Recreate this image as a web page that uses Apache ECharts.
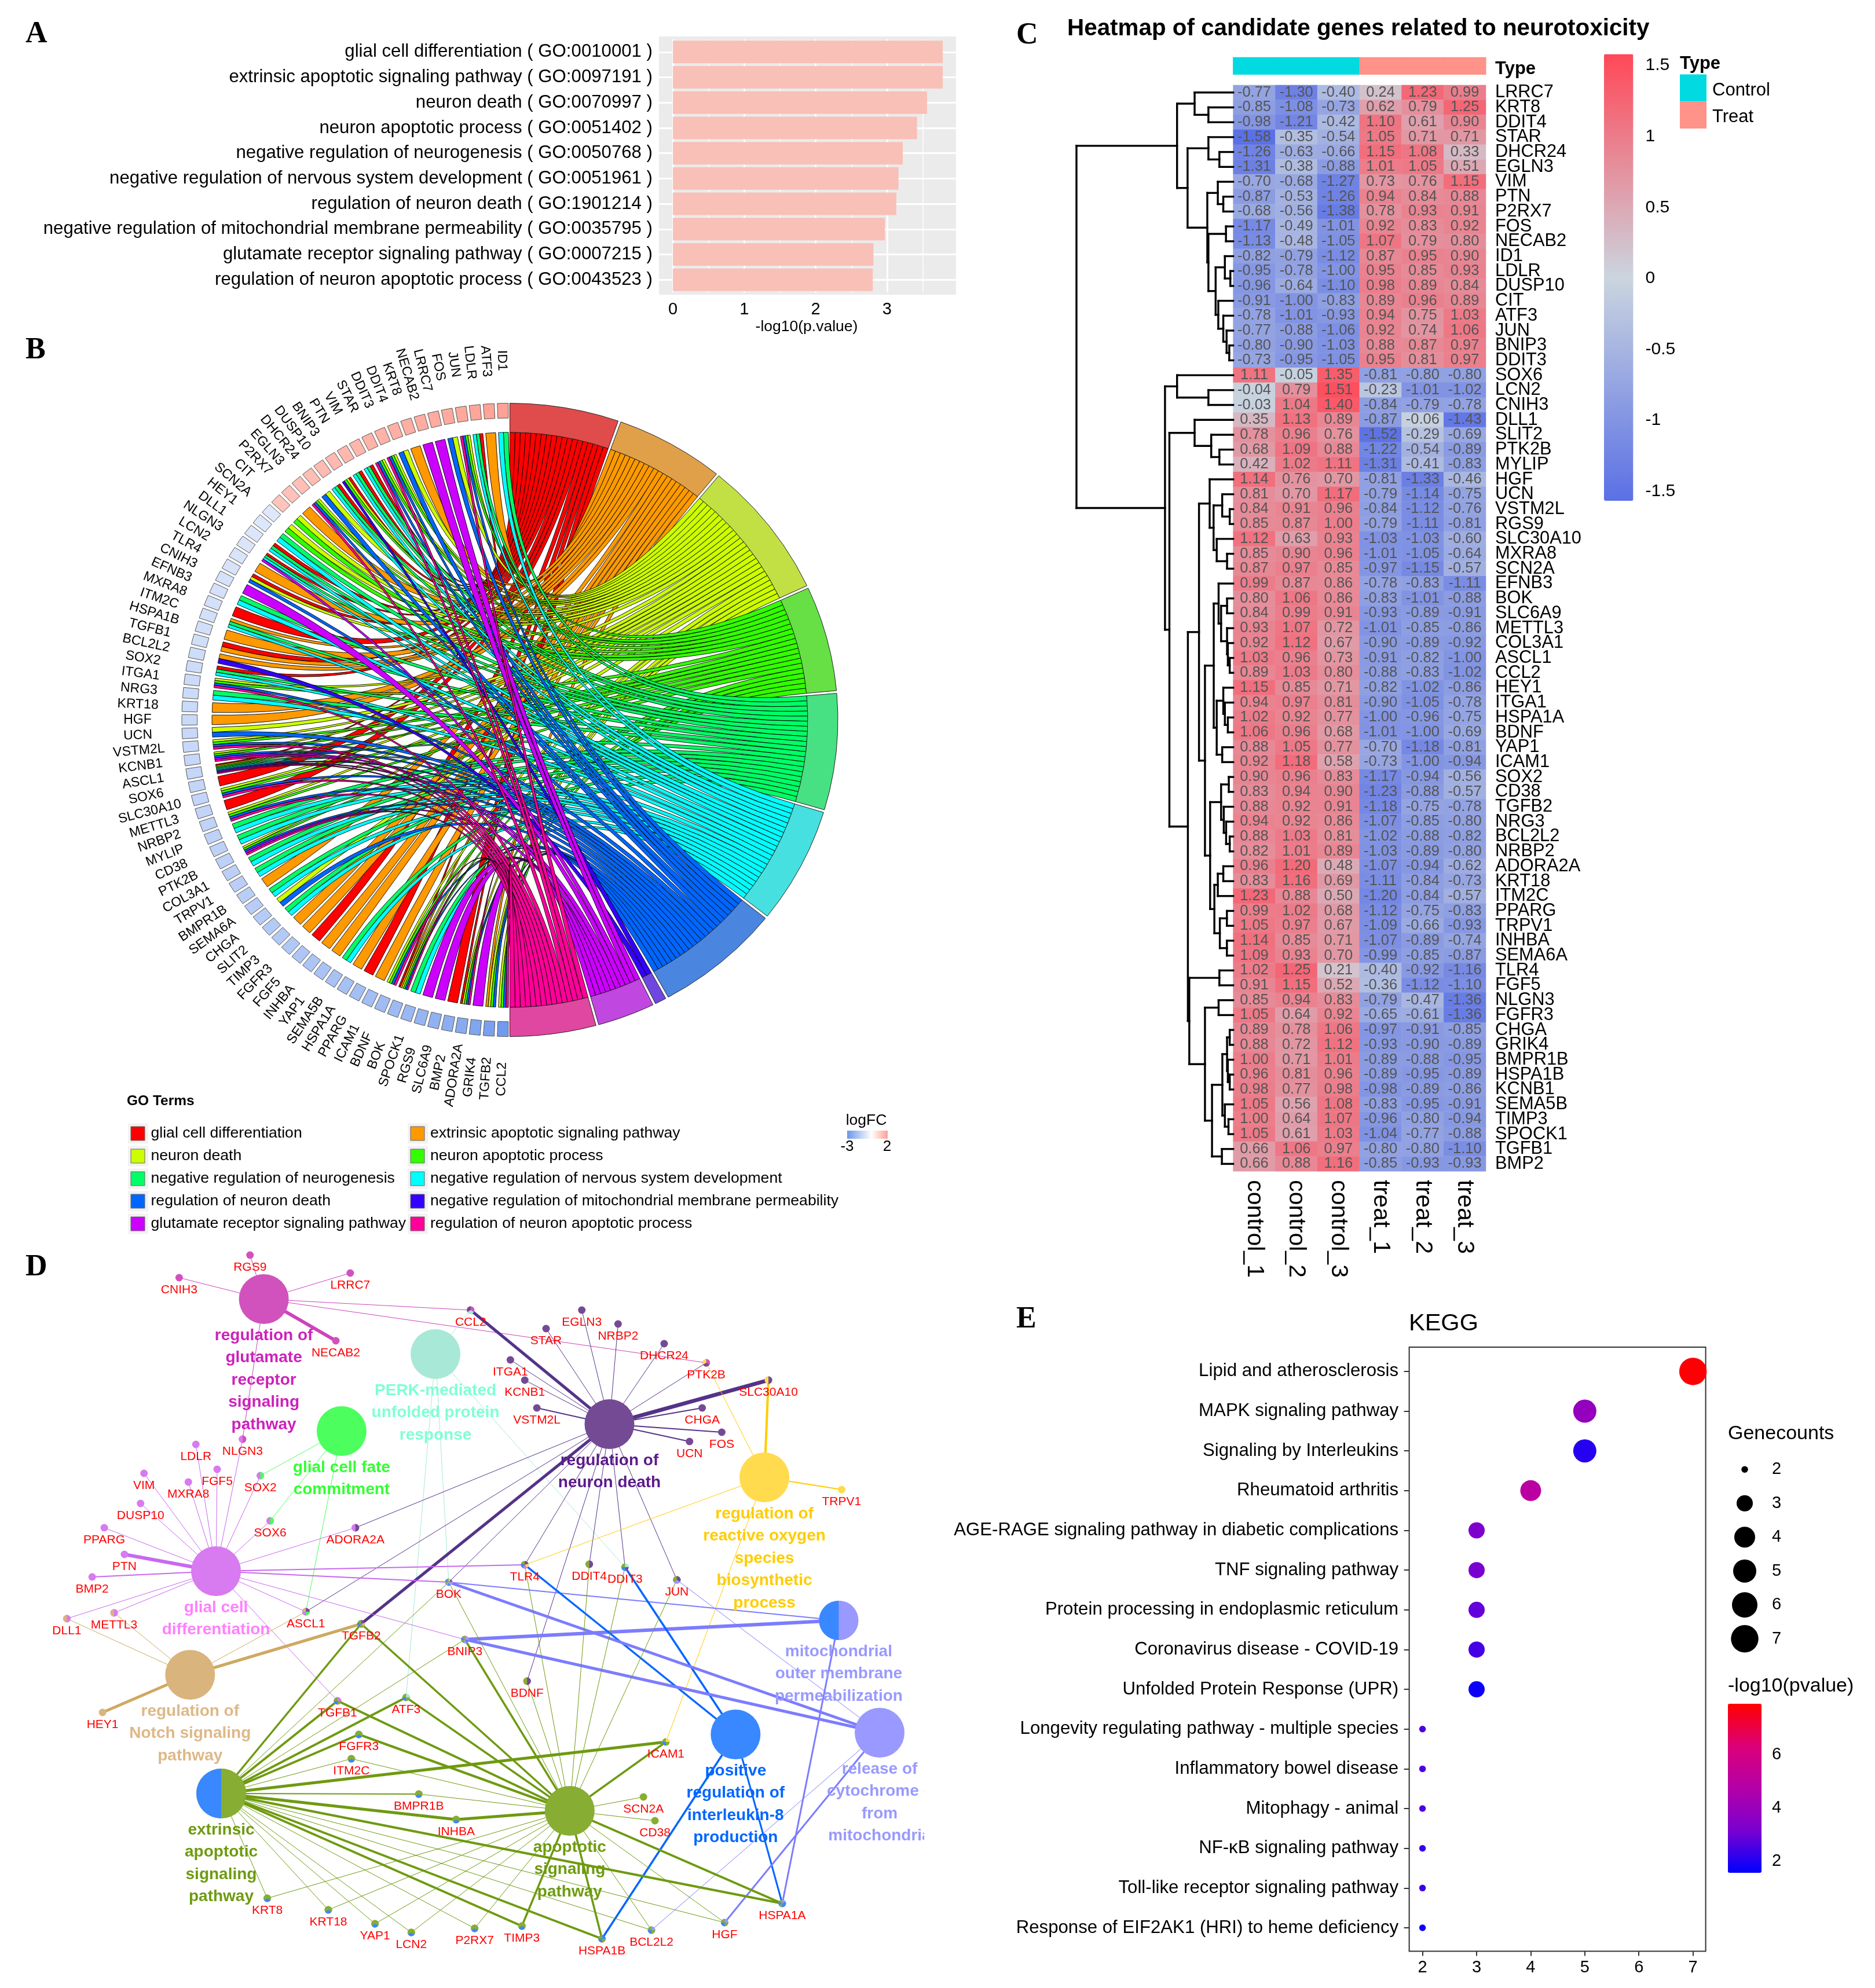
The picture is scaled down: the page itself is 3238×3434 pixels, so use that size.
<!DOCTYPE html>
<html><head><meta charset="utf-8">
<style>html,body{margin:0;padding:0;background:#fff}#c{width:3238px;height:3434px}</style>
<script src="https://cdn.jsdelivr.net/npm/echarts@6/dist/echarts.min.js"></script>
</head><body><div id="c"></div>
<script>
/* ---------- Panel A ---------- */
const goTerms = ['glial cell differentiation','extrinsic apoptotic signaling pathway','neuron death','neuron apoptotic process','negative regulation of neurogenesis','negative regulation of nervous system development','regulation of neuron death','negative regulation of mitochondrial membrane permeability','glutamate receptor signaling pathway','regulation of neuron apoptotic process'];
const goIds = ['GO:0010001','GO:0097191','GO:0070997','GO:0051402','GO:0050768','GO:0051961','GO:1901214','GO:0035795','GO:0007215','GO:0043523'];
const goLogP = [3.78,3.78,3.56,3.42,3.22,3.16,3.13,2.97,2.81,2.80];
/* ---------- Panel B ---------- */
const termColors = ['#FF0000','#FF9900','#CCFF00','#33FF00','#00FF66','#00FFFF','#0066FF','#3300FF','#CC00FF','#FF0099'];
const sectorColors = ['#E04B4B','#E0A04A','#C2E044','#66E044','#47E083','#47E0E0','#4A85E0','#6F47E0','#C047E0','#E047A0'];
const chordGenes = ['ID1','ATF3','LDLR','JUN','FOS','LRRC7','NECAB2','KRT8','DDIT4','DDIT3','STAR','VIM','PTN','BNIP3','DUSP10','DHCR24','EGLN3','P2RX7','CIT','SCN2A','HEY1','DLL1','NLGN3','LCN2','TLR4','CNIH3','EFNB3','MXRA8','ITM2C','HSPA1B','TGFB1','BCL2L2','SOX2','ITGA1','NRG3','KRT18','HGF','UCN','VSTM2L','KCNB1','ASCL1','SOX6','SLC30A10','METTL3','NRBP2','MYLIP','CD38','PTK2B','COL3A1','TRPV1','BMPR1B','SEMA6A','CHGA','SLIT2','TIMP3','FGFR3','FGF5','INHBA','YAP1','SEMA5B','HSPA1A','PPARG','ICAM1','BDNF','BOK','SPOCK1','RGS9','SLC6A9','BMP2','ADORA2A','GRIK4','TGFB2','CCL2'];
const chordTerms = [[4,5],[1],[0,4,5],[2,3,6,9],[2,6],[8],[8],[1],[2,6],[2,3,6,9],[2,3,6,9],[0,4,5],[0,4,5],[0,2,3,7],[0,4,5],[2,6],[2,3,6,9],[1],[2,3],[2,3],[4,5],[0,4,5],[0,4,5,8],[1],[0,2,6],[8],[4,5],[0],[1,4,5],[1],[0,1],[1,7],[0,4,5],[2,3,6,9],[4,5],[1],[1],[2,6],[2,3,6,9],[2,3,6,8,9],[0,2,3,4,5,6,8,9],[0],[2,3,6,9],[0],[2,3,6,9],[4,5],[4,5],[2,3,6,8,9],[4,5],[4,5],[1],[4,5],[2,6],[4,5],[1],[1],[0],[1],[1],[4,5],[1],[0],[1],[2,3,6,9],[0,1,2,3,6,9],[4,5],[8],[8],[0],[0,2,3,6,9],[8],[1,2,3,6],[2,3,6,9]];
const chordLogFC = [1.78,1.74,1.7,1.66,1.62,1.6,1.56,1.54,1.5,1.47,1.44,1.4,1.36,1.33,1.3,1.26,1.22,1.18,1.12,-0.62,-0.66,-0.68,-0.72,-0.74,-0.76,-0.8,-0.82,-0.84,-0.86,-0.88,-0.9,-0.94,-0.96,-0.98,-1,-1.02,-1.04,-1.06,-1.08,-1.1,-1.12,-1.14,-1.16,-1.18,-1.2,-1.24,-1.26,-1.28,-1.3,-1.34,-1.36,-1.4,-1.42,-1.46,-1.48,-1.52,-1.56,-1.6,-1.64,-1.68,-1.72,-1.76,-1.8,-1.84,-1.9,-1.96,-2.04,-2.12,-2.2,-2.3,-2.45,-2.6,-2.75];
/* ---------- Panel C ---------- */
const sampleNames = ['control_1','control_2','control_3','treat_1','treat_2','treat_3'];
const sampleGroups = [0,0,0,1,1,1];
const groupNames = ['Control','Treat'];
const heatGenes = ['LRRC7','KRT8','DDIT4','STAR','DHCR24','EGLN3','VIM','PTN','P2RX7','FOS','NECAB2','ID1','LDLR','DUSP10','CIT','ATF3','JUN','BNIP3','DDIT3','SOX6','LCN2','CNIH3','DLL1','SLIT2','PTK2B','MYLIP','HGF','UCN','VSTM2L','RGS9','SLC30A10','MXRA8','SCN2A','EFNB3','BOK','SLC6A9','METTL3','COL3A1','ASCL1','CCL2','HEY1','ITGA1','HSPA1A','BDNF','YAP1','ICAM1','SOX2','CD38','TGFB2','NRG3','BCL2L2','NRBP2','ADORA2A','KRT18','ITM2C','PPARG','TRPV1','INHBA','SEMA6A','TLR4','FGF5','NLGN3','FGFR3','CHGA','GRIK4','BMPR1B','HSPA1B','KCNB1','SEMA5B','TIMP3','SPOCK1','TGFB1','BMP2'];
const heatValues = [
[-0.77,-1.30,-0.40,0.24,1.23,0.99],[-0.85,-1.08,-0.73,0.62,0.79,1.25],[-0.98,-1.21,-0.42,1.10,0.61,0.90],[-1.58,-0.35,-0.54,1.05,0.71,0.71],[-1.26,-0.63,-0.66,1.15,1.08,0.33],[-1.31,-0.38,-0.88,1.01,1.05,0.51],[-0.70,-0.68,-1.27,0.73,0.76,1.15],[-0.87,-0.53,-1.26,0.94,0.84,0.88],[-0.68,-0.56,-1.38,0.78,0.93,0.91],[-1.17,-0.49,-1.01,0.92,0.83,0.92],[-1.13,-0.48,-1.05,1.07,0.79,0.80],[-0.82,-0.79,-1.12,0.87,0.95,0.90],[-0.95,-0.78,-1.00,0.95,0.85,0.93],[-0.96,-0.64,-1.10,0.98,0.89,0.84],[-0.91,-1.00,-0.83,0.89,0.96,0.89],[-0.78,-1.01,-0.93,0.94,0.75,1.03],[-0.77,-0.88,-1.06,0.92,0.74,1.06],[-0.80,-0.90,-1.03,0.88,0.87,0.97],[-0.73,-0.95,-1.05,0.95,0.81,0.97],
[1.11,-0.05,1.35,-0.81,-0.80,-0.80],[-0.04,0.79,1.51,-0.23,-1.01,-1.02],[-0.03,1.04,1.40,-0.84,-0.79,-0.78],[0.35,1.13,0.89,-0.87,-0.06,-1.43],[0.78,0.96,0.76,-1.52,-0.29,-0.69],[0.68,1.09,0.88,-1.22,-0.54,-0.89],[0.42,1.02,1.11,-1.31,-0.41,-0.83],[1.14,0.76,0.70,-0.81,-1.33,-0.46],[0.81,0.70,1.17,-0.79,-1.14,-0.75],[0.84,0.91,0.96,-0.84,-1.12,-0.76],[0.85,0.87,1.00,-0.79,-1.11,-0.81],[1.12,0.63,0.93,-1.03,-1.03,-0.60],[0.85,0.90,0.96,-1.01,-1.05,-0.64],[0.87,0.97,0.85,-0.97,-1.15,-0.57],[0.99,0.87,0.86,-0.78,-0.83,-1.11],[0.80,1.06,0.86,-0.83,-1.01,-0.88],[0.84,0.99,0.91,-0.93,-0.89,-0.91],[0.93,1.07,0.72,-1.01,-0.85,-0.86],[0.92,1.12,0.67,-0.90,-0.89,-0.92],[1.03,0.96,0.73,-0.91,-0.82,-1.00],[0.89,1.03,0.80,-0.88,-0.83,-1.02],[1.15,0.85,0.71,-0.82,-1.02,-0.86],[0.94,0.97,0.81,-0.90,-1.05,-0.78],[1.02,0.92,0.77,-1.00,-0.96,-0.75],[1.06,0.96,0.68,-1.01,-1.00,-0.69],[0.88,1.05,0.77,-0.70,-1.18,-0.81],[0.92,1.18,0.58,-0.73,-1.00,-0.94],[0.90,0.96,0.83,-1.17,-0.94,-0.56],[0.83,0.94,0.90,-1.23,-0.88,-0.57],[0.88,0.92,0.91,-1.18,-0.75,-0.78],[0.94,0.92,0.86,-1.07,-0.85,-0.80],[0.88,1.03,0.81,-1.02,-0.88,-0.82],[0.82,1.01,0.89,-1.03,-0.89,-0.80],[0.96,1.20,0.48,-1.07,-0.94,-0.62],[0.83,1.16,0.69,-1.11,-0.84,-0.73],[1.23,0.88,0.50,-1.20,-0.84,-0.57],[0.99,1.02,0.68,-1.12,-0.75,-0.83],[1.05,0.97,0.67,-1.09,-0.66,-0.93],[1.14,0.85,0.71,-1.07,-0.89,-0.74],[1.09,0.93,0.70,-0.99,-0.85,-0.87],[1.02,1.25,0.21,-0.40,-0.92,-1.16],[0.91,1.15,0.52,-0.36,-1.12,-1.10],[0.85,0.94,0.83,-0.79,-0.47,-1.36],[1.05,0.64,0.92,-0.65,-0.61,-1.36],[0.89,0.78,1.06,-0.97,-0.91,-0.85],[0.88,0.72,1.12,-0.93,-0.90,-0.89],[1.00,0.71,1.01,-0.89,-0.88,-0.95],[0.96,0.81,0.96,-0.89,-0.95,-0.89],[0.98,0.77,0.98,-0.98,-0.89,-0.86],[1.05,0.56,1.08,-0.83,-0.95,-0.91],[1.00,0.64,1.07,-0.96,-0.80,-0.94],[1.05,0.61,1.03,-1.04,-0.77,-0.88],[0.66,1.06,0.97,-0.80,-0.80,-1.10],[0.66,0.88,1.16,-0.85,-0.93,-0.93]];
/* merge heights of the row dendrogram: [height, childA, childB] */
const rowTree = [100,
 [35.8,[24.6,'LRRC7',[15.8,'KRT8','DDIT4']],
  [29.1,[15.8,'STAR',[8.8,'DHCR24','EGLN3']],
   [16.5,[9.8,'VIM',[6.3,'PTN','P2RX7']],
    [15.8,[4.6,'FOS','NECAB2'],
     [11.2,[5.3,'ID1',[1.8,'LDLR','DUSP10']],
      [9.5,'CIT',[6.3,'ATF3',[4.2,'JUN',[2.5,'BNIP3','DDIT3']]]]]]]]],
 [43.5,[35.8,'SOX6',[15.8,'LCN2','CNIH3']],
  [40.7,[24.6,'DLL1',[14,'SLIT2',[8.8,'PTK2B','MYLIP']]],
   [28.9,
    [21.8,
     [15,'HGF',[12.5,[7,'UCN',[2.2,'VSTM2L','RGS9']],[10.5,'SLC30A10',[3.9,'MXRA8','SCN2A']]]],
     [18,
      [12.4,[9.3,'EFNB3',[7.7,[3.9,'BOK','SLC6A9'],[3.9,'METTL3',[3.4,'COL3A1',[2.2,'ASCL1','CCL2']]]]],
       [10.5,[6.3,'HEY1',[5.3,'ITGA1',[3.4,'HSPA1A','BDNF']]],[7,'YAP1','ICAM1']]],
      [14.7,[7.7,[2.8,'SOX2','CD38'],[6,'TGFB2',[4.5,'NRG3',[2.2,'BCL2L2','NRBP2']]]],
       [12,[9.8,[6.3,'ADORA2A','KRT18'],'ITM2C'],[8.5,[4,'PPARG','TRPV1'],[4,'INHBA','SEMA6A']]]]]],
    [28,[8.8,'TLR4','FGF5'],
     [18,[9.3,'NLGN3','FGFR3'],
      [13.5,[6.9,[3.9,[2.2,'CHGA','GRIK4'],[3.4,'BMPR1B',[2.2,'HSPA1B','KCNB1']]],[5.3,'SEMA5B',[3,'TIMP3','SPOCK1']]],
       [7.2,'TGFB1','BMP2']]]]]]]];
const heatTicks = [-1.5,-1,-0.5,0,0.5,1,1.5];
/* ---------- Panel D ---------- */
const hubNames = ['regulation of\nglutamate\nreceptor\nsignaling\npathway','PERK-mediated\nunfolded protein\nresponse','regulation of\nneuron death','glial cell fate\ncommitment','regulation of\nreactive oxygen\nspecies\nbiosynthetic\nprocess','glial cell\ndifferentiation','regulation of\nNotch signaling\npathway','mitochondrial\nouter membrane\npermeabilization','positive\nregulation of\ninterleukin-8\nproduction','release of\ncytochrome c\nfrom\nmitochondria','extrinsic\napoptotic\nsignaling\npathway','apoptotic\nsignaling\npathway'];
const hubPies = [['#D152BD'],['#A8E8D6'],['#754A94'],['#4DFF5E'],['#FFDB4D'],['#D87AF0'],['#D9B47D'],['#9999FF','#3A88FF'],['#3A88FF'],['#9999FF'],['#87AD33','#3A88FF'],['#87AD33']];
const hubText = ['#CC22BB','#7FFFD4','#5B1A8B','#33FF33','#FFCC00','#FF80FF','#DEB887','#9999FF','#0066FF','#9999FF','#6E9B10','#6E9B10'];
const hubEdge = ['#CC44BB','#A8E8D6','#553388','#4DFF5E','#FFCC00','#C868F0','#CFA860','#7C7CFF','#0066FF','#7C7CFF','#6E9A10','#6E9A10'];
const hubMembers = [
 ['CNIH3','LRRC7','RGS9','CCL2','PTK2B','NECAB2 6','NLGN3'],
 ['CCL2','DDIT3','BOK','ATF3'],
 ['CCL2 5','EGLN3','NRBP2','STAR','DHCR24','PTK2B','ITGA1','KCNB1','SLC30A10 7','VSTM2L 2','CHGA 2','FOS 2','UCN 2','ADORA2A','ASCL1','TGFB2 5','BOK','TLR4','DDIT4','DDIT3','JUN','BDNF'],
 ['SOX2','SOX6','ASCL1'],
 ['SLC30A10 4','PTK2B','TRPV1 2','TLR4','ICAM1'],
 ['NLGN3','LDLR','FGF5','VIM','MXRA8','SOX2','DUSP10','SOX6','PPARG','PTN 6','BMP2 2','DLL1','METTL3','ASCL1','ADORA2A','TLR4 2','BOK 2','BNIP3','TGFB1'],
 ['DLL1','METTL3','ASCL1','TGFB2 5','HEY1 5'],
 ['BOK 2','BNIP3 6','HSPA1A 3'],
 ['TLR4 3.5','DDIT3 3.5','HSPA1B 3.5','HSPA1A 3'],
 ['BOK 5','BNIP3 5','JUN','BCL2L2','HGF 3'],
 ['TGFB2 3.5','TGFB1 4','ATF3 4','FGFR3 4','ITM2C','ICAM1 5','BMPR1B 2','INHBA 5','BOK','BNIP3','KRT8','KRT18','YAP1','LCN2','P2RX7','TIMP3 4','HSPA1B 4','BCL2L2','HGF','HSPA1A 4'],
 ['TGFB2 3.5','TGFB1 4','ATF3 3.5','FGFR3 4','ITM2C','BMPR1B','INHBA 5','ICAM1 3.5','SCN2A','CD38','BNIP3 3.5','BOK','TLR4','DDIT4','DDIT3','JUN','BDNF','KRT8','KRT18','YAP1','LCN2','P2RX7','TIMP3 3.5','HSPA1B 3.5','BCL2L2','HGF','HSPA1A 4']
];
/* layout of the network (the picture has no data scale for it) */
const hubLayout = [[458,2244,86],[756,2339,86],[1058,2460,86],[593,2472,86],[1327,2552,86],[375,2714,86],[330,2893,86],[1456,2799,68],[1277,2996,86],[1527,2993,86],[384,3098,86],[989,3128,86]];
const geneLayout = {RGS9:[434,2168],CNIH3:[311,2207],LRRC7:[608,2199],NECAB2:[583,2316],CCL2:[817,2263],EGLN3:[1010,2263],NRBP2:[1073,2287],STAR:[948,2295],DHCR24:[1153,2321],PTK2B:[1226,2354],ITGA1:[886,2349],KCNB1:[911,2384],SLC30A10:[1334,2384],VSTM2L:[932,2432],CHGA:[1219,2432],FOS:[1253,2474],UCN:[1197,2490],TRPV1:[1461,2573],NLGN3:[421,2486],LDLR:[340,2495],FGF5:[377,2538],VIM:[250,2545],MXRA8:[327,2560],SOX2:[452,2549],DUSP10:[244,2597],SOX6:[469,2627],PPARG:[181,2639],ADORA2A:[617,2639],PTN:[216,2685],BMP2:[160,2724],TLR4:[911,2703],DDIT4:[1023,2702],DDIT3:[1085,2707],JUN:[1175,2729],BOK:[779,2733],DLL1:[116,2796],METTL3:[198,2786],ASCL1:[531,2784],TGFB2:[627,2805],BNIP3:[807,2832],BDNF:[915,2904],HEY1:[178,2958],TGFB1:[586,2938],ATF3:[705,2932],FGFR3:[623,2996],ITM2C:[610,3038],ICAM1:[1156,3009],BMPR1B:[727,3099],SCN2A:[1117,3104],INHBA:[792,3143],CD38:[1137,3145],KRT8:[464,3279],KRT18:[570,3299],YAP1:[651,3323],LCN2:[714,3338],P2RX7:[824,3331],TIMP3:[906,3327],HSPA1B:[1045,3349],BCL2L2:[1131,3334],HGF:[1258,3321],HSPA1A:[1358,3288]};
/* ---------- Panel E ---------- */
const keggNames = ['Lipid and atherosclerosis','MAPK signaling pathway','Signaling by Interleukins','Rheumatoid arthritis','AGE-RAGE signaling pathway in diabetic complications','TNF signaling pathway','Protein processing in endoplasmic reticulum','Coronavirus disease - COVID-19','Unfolded Protein Response (UPR)','Longevity regulating pathway - multiple species','Inflammatory bowel disease','Mitophagy - animal','NF-κB signaling pathway','Toll-like receptor signaling pathway','Response of EIF2AK1 (HRI) to heme deficiency'];
const keggCounts = [7,5,5,4,3,3,3,3,3,2,2,2,2,2,2];
const keggLogP = [7.9,3.9,2.1,5.0,3.3,3.2,2.9,2.5,1.75,2.6,2.6,2.6,2.3,2.4,1.8];
const countLegend = [2,3,4,5,6,7];
const pTicks = [2,4,6];

const FONT = '"Liberation Sans", Arial, sans-serif';
const grid=[],xAxis=[],yAxis=[],series=[],visualMap=[],graphic=[];
const hide={show:false};
const addText=(text,x,y,size,o={})=>graphic.push({type:'text',z:o.z||50,rotation:o.rotation||0,x,y,style:{text,fill:o.fill||'#000',font:(o.weight||'normal')+' '+size+'px '+(o.family||FONT),align:o.align||'left',verticalAlign:'middle',textAlign:o.align||'left',textVerticalAlign:'middle'}});
const addRect=(x,y,w,h,fill,z,o={})=>graphic.push({type:'rect',z:z,shape:{x,y,width:w,height:h},style:{fill,stroke:o.stroke||null,lineWidth:o.lw||0}});
const SERIF='"Liberation Serif", "Times New Roman", serif';
[['A',44,60],['B',44,606],['C',1755,62],['D',44,2190],['E',1755,2280]].forEach(p=>addText(p[0],p[1],p[2],52,{weight:'bold',family:SERIF}));

/* ===== A ===== */
addRect(1138,63,513,446,'#EBEBEB',-10);
grid.push({left:1138,width:513,top:68,height:437,containLabel:false});
xAxis.push({gridIndex:0,type:'value',min:-0.195,max:3.966,offset:4,axisLine:hide,
  axisTick:{customValues:[0,1,2,3],length:8,lineStyle:{color:'#333',width:2}},
  axisLabel:{customValues:[0,1,2,3],fontSize:29,color:'#000',margin:11,fontFamily:FONT},
  splitLine:{show:true,lineStyle:{color:'#fff',width:3}}});
xAxis.push({gridIndex:0,type:'value',min:-0.195,max:3.966,axisLine:hide,axisTick:{show:false,customValues:[0.5,1.5,2.5,3.5]},axisLabel:{show:false},splitLine:{show:true,lineStyle:{color:'#fff',width:1.5}}});
yAxis.push({gridIndex:0,type:'category',inverse:true,data:goTerms.map((t,i)=>t+' ( '+goIds[i]+' )'),axisLine:{show:false,onZero:false},
  axisTick:{alignWithLabel:true,length:7,lineStyle:{color:'#333',width:2}},
  axisLabel:{fontSize:31.2,color:'#000',margin:11,fontFamily:FONT,interval:0},
  splitLine:{show:true,alignWithLabel:true,lineStyle:{color:'#fff',width:3}}});
series.push({type:'bar',xAxisIndex:0,yAxisIndex:0,data:goLogP,barWidth:39,itemStyle:{color:'#F9C0B7'},silent:true});
addText('-log10(p.value)',1393,565,26.5,{align:'center'});

/* ===== B ===== */
const C={cx:880.5,cy:1243.5,rx:566.5,ry:547};
const pt=(deg,r)=>{const a=deg*Math.PI/180;return [C.cx+C.rx*r*Math.sin(a),C.cy-C.ry*r*Math.cos(a)];};
const P=(deg,r)=>pt(deg,r).map(v=>v.toFixed(2)).join(' ');
const arcPath=(a,b,r)=>{let s='';for(let k=1;k<=6;k++)s+=' L'+P(a+(b-a)*k/6,r);return s;};
const counts=termColors.map((_,t)=>chordTerms.filter(l=>l.includes(t)).length);
const totalR=counts.reduce((a,b)=>a+b,0);
const secGap=0.49,unit=(180-9*secGap)/totalR;
const secStart=[];let acc=0;counts.forEach((c,t)=>{secStart[t]=acc;acc+=c*unit+secGap;});
const geneW=180/chordGenes.length;
const RIN=0.908;
const ribbons=[];const used=termColors.map(()=>0);
termColors.forEach((_,t)=>{chordTerms.forEach((l,g)=>{const k=l.indexOf(t);if(k<0)return;
  const a1=secStart[t]+used[t]*unit,a2=a1+unit;used[t]++;
  const span=geneW*0.78,st=-(g*geneW+geneW*0.11)-0.0;
  const b0=st-span*k/l.length,b1=st-span*(k+1)/l.length;
  ribbons.push([t,a1,a2,b0,b1]);});});
const cc=C.cx+' '+C.cy;
series.push({type:'custom',coordinateSystem:'none',silent:true,z:3,clip:false,progressive:0,data:ribbons,renderItem:(p,api)=>{
  const t=api.value(0),a1=api.value(1),a2=api.value(2),b0=api.value(3),b1=api.value(4);
  const d='M'+P(a1,RIN)+arcPath(a1,a2,RIN)+' Q'+cc+' '+P(b1,RIN)+arcPath(b1,b0,RIN)+' Q'+cc+' '+P(a1,RIN)+' Z';
  return {type:'path',shape:{pathData:d},style:{fill:termColors[t],stroke:'#000',lineWidth:0.9}};
}});
series.push({type:'custom',coordinateSystem:'none',silent:true,z:4,clip:false,progressive:0,data:counts.map((c,t)=>[t,c]),renderItem:(p,api)=>{
  const t=api.value(0),a=secStart[t],b=a+api.value(1)*unit;
  const d='M'+P(a,1)+arcPath(a,b,1)+' L'+P(b,RIN)+arcPath(b,a,RIN)+' Z';
  return {type:'path',shape:{pathData:d},style:{fill:sectorColors[t],stroke:'#222',lineWidth:1}};
}});
const fcColor=v=>{const mix=(a,b,f)=>'rgb('+a.map((x,i)=>Math.round(x+(b[i]-x)*f)).join(',')+')';
  return v>=0?mix([255,255,255],[255,150,136],v/2):mix([255,255,255],[100,146,236],-v/3);};
series.push({type:'custom',coordinateSystem:'none',silent:true,z:4,clip:false,progressive:0,data:chordLogFC.map((v,i)=>[i,v]),renderItem:(p,api)=>{
  const g=api.value(0),a=-(g*geneW+geneW*0.11),b=a-geneW*0.78;
  const d='M'+P(a,1)+arcPath(a,b,1)+' L'+P(b,0.953)+arcPath(b,a,0.953)+' Z';
  return {type:'path',shape:{pathData:d},style:{fill:fcColor(api.value(1)),stroke:'#555',lineWidth:1}};
}});
series.push({type:'custom',coordinateSystem:'none',silent:true,z:5,clip:false,progressive:0,data:chordGenes.map((n,i)=>[i]),renderItem:(p,api)=>{
  const g=api.value(0),m=-(g*geneW+geneW*0.5),q=pt(m,1.135);
  const rot=Math.atan2(q[1]-C.cy,-(q[0]-C.cx));
  return {type:'text',x:q[0],y:q[1],rotation:rot,style:{text:chordGenes[g],font:'23px '+FONT,fill:'#000',align:'center',verticalAlign:'middle',textAlign:'center',textVerticalAlign:'middle'}};
}});
addText('GO Terms',219,1902,24.5,{weight:'bold'});
goTerms.forEach((t,i)=>{const col=i%2,row=(i-col)/2,y=1958+row*39,kx=col?704:221;
  addRect(kx,y-17.5,35,35,'#F2F2F2',40);
  addRect(kx+5,y-12,24,24,termColors[i],41,{stroke:'#666',lw:1});
  addText(t,col?743:260.5,y,26.6);});
addText('logFC',1496,1936,26.5,{align:'center'});
graphic.push({type:'rect',z:40,shape:{x:1463,y:1953,width:70,height:14},style:{fill:new echarts.graphic.LinearGradient(0,0,1,0,[{offset:0,color:'#6C96E8'},{offset:0.6,color:'#FFFFFF'},{offset:1,color:'#FF9F94'}])}});
addText('-3',1463,1981,26,{align:'center'});addText('2',1532,1981,26,{align:'center'});

/* ===== C ===== */
const gH=1;
grid.push({left:2129.6,width:436.4,top:146.9,height:1876.4});
xAxis.push({gridIndex:gH,type:'category',data:sampleNames,axisLine:hide,axisTick:hide,splitLine:hide,axisLabel:{rotate:-90,fontSize:41,color:'#000',margin:15,fontFamily:FONT,interval:0}});
yAxis.push({gridIndex:gH,type:'category',inverse:true,position:'right',data:heatGenes,axisLine:hide,axisTick:hide,splitLine:hide,axisLabel:{fontSize:30.8,color:'#000',margin:16,fontFamily:FONT,interval:0}});
const heatData=[];heatValues.forEach((r,i)=>r.forEach((v,j)=>heatData.push([j,i,v])));
const heatIdx=series.length;
series.push({type:'heatmap',xAxisIndex:2,yAxisIndex:gH,data:heatData,silent:true,progressive:0,label:{show:true,fontSize:25.5,color:'#555',fontFamily:FONT,formatter:p=>p.value[2].toFixed(2)}});
visualMap.push({type:'continuous',seriesIndex:heatIdx,dimension:2,min:-1.56,max:1.586,calculable:false,hoverLink:false,realtime:false,itemWidth:50.5,itemHeight:771.5,left:2770,top:93.5,padding:0,inRange:{color:['#5A70E5','#CBD5DF','#FF4858']}});
/* dendrogram */
const dG=grid.length;
grid.push({left:1859,width:270.6,top:146.9,height:1876.4});
const dX=xAxis.length; xAxis.push({gridIndex:dG,type:'value',min:0,max:100,inverse:true,show:false});
const dY=yAxis.length; yAxis.push({gridIndex:dG,type:'value',min:-0.5,max:72.5,inverse:true,show:false});
const treeSegs=[];
const walk=n=>{if(typeof n==='string')return {h:0,y:heatGenes.indexOf(n)};
  const a=walk(n[1]),b=walk(n[2]),h=n[0];
  treeSegs.push([a.h,a.y,h,a.y],[b.h,b.y,h,b.y],[h,a.y,h,b.y]);
  return {h,y:(a.y+b.y)/2};};
walk(rowTree);
const seg=(p,api)=>{const s=api.coord([api.value(0),api.value(1)]),e=api.coord([api.value(2),api.value(3)]);
  return {type:'line',shape:{x1:s[0],y1:s[1],x2:e[0],y2:e[1]},style:{stroke:'#000',lineWidth:3.4,lineCap:'square'}};};
series.push({type:'custom',xAxisIndex:dX,yAxisIndex:dY,silent:true,clip:false,progressive:0,data:treeSegs,encode:{x:[0,2],y:[1,3]},renderItem:seg});
/* annotation bar */
const aG=grid.length;
grid.push({left:2129.6,width:436.4,top:98.7,height:30.3});
const aX=xAxis.length; xAxis.push({gridIndex:aG,type:'category',data:sampleNames,show:false});
const aY=yAxis.length; yAxis.push({gridIndex:aG,type:'category',data:['Type'],show:false});
const typeColors=['#00DAE0','#FF9289'];
series.push({type:'custom',xAxisIndex:aX,yAxisIndex:aY,silent:true,progressive:0,data:sampleNames.map((n,i)=>[i,0,sampleGroups[i]]),encode:{x:0,y:1},renderItem:(p,api)=>{
  const c=api.coord([api.value(0),0]),s=api.size([1,1]);
  return {type:'rect',shape:{x:c[0]-s[0]/2-0.5,y:c[1]-s[1]/2,width:s[0]+1,height:s[1]},style:{fill:typeColors[api.value(2)]}};
}});
addText('Heatmap of candidate genes related to neurotoxicity',1843,50,40.4,{weight:'bold'});
addText('Type',2582,119,31,{weight:'bold'});
addText('Type',2901,110,31,{weight:'bold'});
groupNames.forEach((n,i)=>{addRect(2901,128.6+i*46.7,46,46.7,typeColors[i],40);addText(n,2957,156+i*46,31);});
/* heat colourbar labels */
const hbG=grid.length;
grid.push({left:2770,width:50.5,top:93.5,height:771.5});
const hbX=xAxis.length; xAxis.push({gridIndex:hbG,type:'value',min:0,max:1,show:false});
const hbY=yAxis.length; yAxis.push({gridIndex:hbG,type:'value',position:'right',min:-1.566,max:1.58,axisLine:hide,axisTick:{show:false,customValues:heatTicks},splitLine:hide,axisLabel:{customValues:heatTicks,fontSize:30,color:'#000',margin:21,fontFamily:FONT,formatter:v=>String(v)}});

/* ===== E ===== */
const sizeBy={2:11.5,3:28,4:36,5:40,6:44,7:47.5};
const eG=grid.length;
grid.push({left:2433.6,width:512,top:2327,height:1043.5,show:true,borderColor:'#333',borderWidth:2,backgroundColor:'#fff'});
const eRows=keggNames.map((_,i)=>i+1);
const eX=xAxis.length; xAxis.push({gridIndex:eG,type:'value',min:1.754,max:7.235,axisLine:hide,splitLine:hide,axisTick:{customValues:[2,3,4,5,6,7],length:8,lineStyle:{color:'#333',width:2}},axisLabel:{customValues:[2,3,4,5,6,7],fontSize:29,color:'#000',margin:14,fontFamily:FONT}});
const eY=yAxis.length; yAxis.push({gridIndex:eG,type:'value',inverse:true,min:0.39,max:15.59,axisLine:{show:false,onZero:false},splitLine:hide,axisTick:{customValues:eRows,length:9,lineStyle:{color:'#333',width:2}},axisLabel:{customValues:eRows,fontSize:31.2,color:'#000',margin:18.5,fontFamily:FONT,formatter:v=>keggNames[v-1]}});
const eIdx=series.length;
series.push({type:'scatter',xAxisIndex:eX,yAxisIndex:eY,silent:true,itemStyle:{opacity:1},data:keggNames.map((n,i)=>[keggCounts[i],i+1,keggLogP[i]]),symbolSize:v=>sizeBy[v[0]]});
visualMap.push({type:'continuous',seriesIndex:eIdx,dimension:2,min:1.6,max:7.95,calculable:false,hoverLink:false,realtime:false,itemWidth:58,itemHeight:292,left:2984,top:2943,padding:0,inRange:{color:['#0000FF','#7A00D0','#B400A8','#DC0078','#FF0000']}});
const ebG=grid.length;
grid.push({left:2984,width:58,top:2943,height:292,z:10});
const ebX=xAxis.length; xAxis.push({gridIndex:ebG,type:'value',min:0,max:1,show:false});
const ebY=yAxis.length; yAxis.push({gridIndex:ebG,type:'value',position:'right',min:1.57,max:7.92,z:20,axisLine:hide,splitLine:hide,axisTick:{inside:true,customValues:pTicks,length:12,lineStyle:{color:'#fff',width:1.5}},axisLabel:{customValues:pTicks,fontSize:29,color:'#000',margin:18,fontFamily:FONT}});
const slG=grid.length;
grid.push({left:2984,width:58,top:2509,height:351});
const slX=xAxis.length; xAxis.push({gridIndex:slG,type:'value',min:0,max:1,show:false});
const slY=yAxis.length; yAxis.push({gridIndex:slG,type:'value',position:'right',inverse:true,min:1.5,max:7.5,axisLine:hide,axisTick:{show:false,customValues:countLegend},splitLine:hide,axisLabel:{customValues:countLegend,fontSize:29,color:'#000',margin:18,fontFamily:FONT}});
series.push({type:'scatter',xAxisIndex:slX,yAxisIndex:slY,silent:true,data:countLegend.map(n=>[0.5,n]),symbolSize:v=>sizeBy[v[1]],itemStyle:{color:'#000',opacity:1}});
addText('KEGG',2433,2287,41.5);
addText('Genecounts',2984,2477,34);
addText('-log10(pvalue)',2984,2913,34);

/* ===== D ===== */
const nG=grid.length;
grid.push({left:0,right:0,top:0,bottom:0});
const nX=xAxis.length; xAxis.push({gridIndex:nG,type:'value',min:0,max:3255,show:false});
const nY=yAxis.length; yAxis.push({gridIndex:nG,type:'value',min:0,max:3434,inverse:true,show:false});
const slices={};const links=[];
hubMembers.forEach((list,h)=>list.forEach(s=>{const [g,w]=s.split(' ');
  (slices[g]=slices[g]||[]).push(...hubPies[h]);
  links.push({source:hubNames[h],target:g,lineStyle:{color:hubEdge[h],width:w?+w:1,opacity:1,curveness:0}});}));
const nodes=[];
hubNames.forEach((n,h)=>nodes.push({name:n,value:hubLayout[h].slice(0,2),symbolSize:hubLayout[h][2],itemStyle:{color:hubPies[h][0]},
  label:{show:true,position:'bottom',distance:1,color:hubText[h],fontSize:28,fontWeight:'bold',lineHeight:38.5,align:'center',fontFamily:FONT,formatter:p=>p.name}}));
Object.keys(geneLayout).forEach(g=>nodes.push({name:g,value:geneLayout[g],symbolSize:13,itemStyle:{color:(slices[g]||['#888'])[0]},
  label:{show:true,position:'bottom',distance:4,color:'#FF0000',fontSize:21,fontFamily:FONT}}));
series.push({type:'graph',coordinateSystem:'cartesian2d',xAxisIndex:nX,yAxisIndex:nY,layout:'none',silent:true,z:2,data:nodes,links:links,edgeSymbol:['none','none'],lineStyle:{opacity:1},emphasis:{disabled:true}});
const pieData=[];
hubPies.forEach((c,h)=>{if(c.length>1)pieData.push({value:[hubLayout[h][0],hubLayout[h][1],hubLayout[h][2]/2],cols:c});});
Object.keys(geneLayout).forEach(g=>{if(slices[g]&&slices[g].length>1)pieData.push({value:[geneLayout[g][0],geneLayout[g][1],6.5],cols:slices[g]});});
series.push({type:'custom',xAxisIndex:nX,yAxisIndex:nY,silent:true,z:3,clip:false,progressive:0,data:pieData,encode:{x:0,y:1},renderItem:(p,api)=>{
  const c=api.coord([api.value(0),api.value(1)]),r=api.value(2),cols=pieData[p.dataIndex].cols,n=cols.length,ch=[];
  cols.forEach((col,i)=>ch.push({type:'sector',shape:{cx:c[0],cy:c[1],r:r,r0:0,startAngle:-Math.PI/2+i*2*Math.PI/n,endAngle:-Math.PI/2+(i+1)*2*Math.PI/n,clockwise:true},style:{fill:col}}));
  return {type:'group',children:ch};
}});
addRect(1596,2950,40,320,'#fff',30);

const chart=echarts.init(document.getElementById('c'),null,{renderer:'canvas'});
chart.setOption({animation:false,backgroundColor:'#fff',textStyle:{fontFamily:FONT},grid,xAxis,yAxis,series,visualMap,graphic:{elements:graphic}});
</script></body></html>
